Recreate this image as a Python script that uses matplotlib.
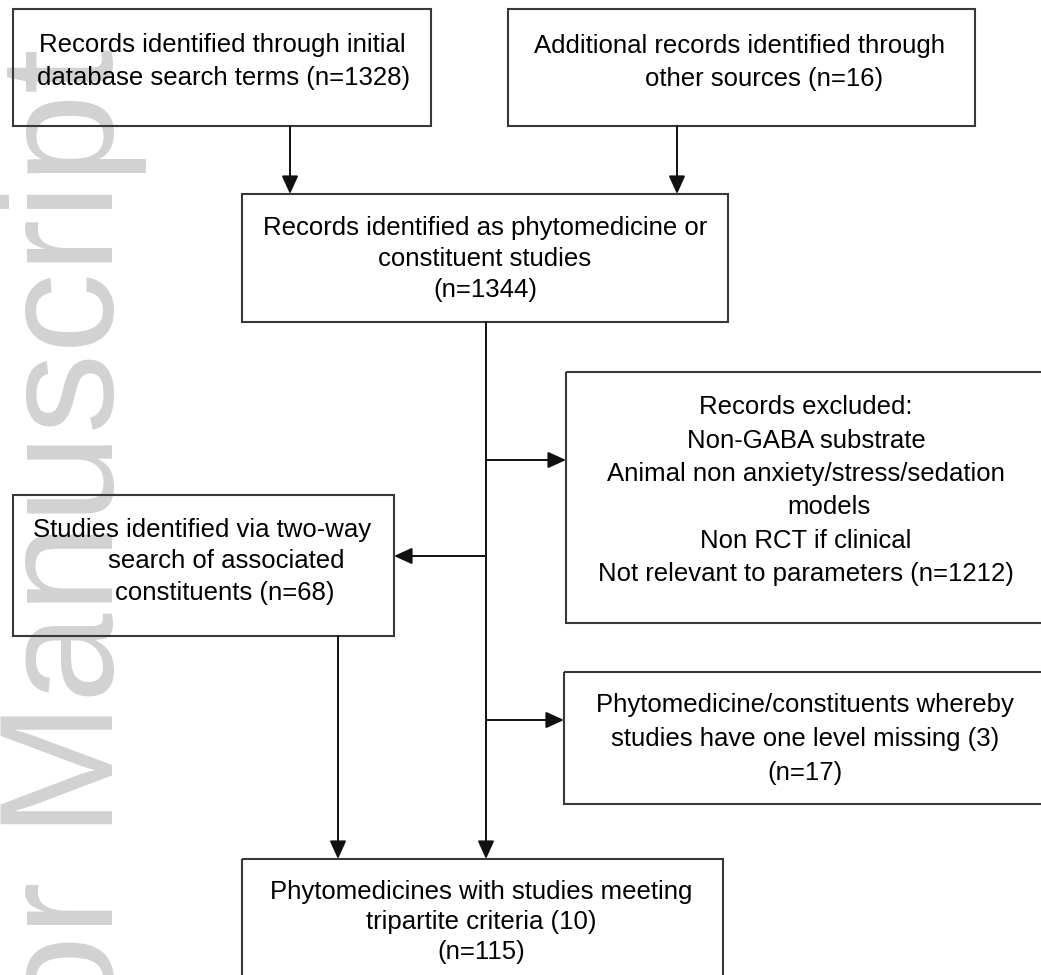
import matplotlib.pyplot as plt
from matplotlib.patches import Rectangle

# record counts shown in the flow diagram
n_database = 1328
n_other = 16
n_screened = 1344
n_excluded = 1212
n_two_way = 68
n_missing = 17
n_included = 115
n_missing_plants = 3
n_included_plants = 10

# text of each box, one entry per line
database_lines = ["Records identified through initial",
                  f"database search terms (n={n_database})"]
other_lines = ["Additional records identified through",
               f"other sources (n={n_other})"]
screened_lines = ["Records identified as phytomedicine or",
                  "constituent studies",
                  f"(n={n_screened})"]
excluded_lines = ["Records excluded:",
                  "Non-GABA substrate",
                  "Animal non anxiety/stress/sedation",
                  "models",
                  "Non RCT if clinical",
                  f"Not relevant to parameters (n={n_excluded})"]
two_way_lines = ["Studies identified via two-way",
                 "search of associated",
                 f"constituents (n={n_two_way})"]
missing_lines = ["Phytomedicine/constituents whereby",
                 f"studies have one level missing ({n_missing_plants})",
                 f"(n={n_missing})"]
included_lines = ["Phytomedicines with studies meeting",
                  f"tripartite criteria ({n_included_plants})",
                  f"(n={n_included})"]

watermark = "Author Manuscript"

# layout in pixels: box (x0, y0, x1, y1) and text (centre x, first line y, step, line shifts)
layout = [
    (database_lines, (13, 9, 431, 126), (222, 45, 33, [0, 2])),
    (other_lines, (508, 9, 975, 126), (740, 46, 33, [0, 24])),
    (screened_lines, (242, 194, 728, 322), (485, 228, 31, [0, 0, 0])),
    (excluded_lines, (566, 372, 1070, 623), (806, 407, 33.5, [0, 0, 0, 23, 0, 0])),
    (two_way_lines, (13, 495, 394, 636), (202, 530, 31.5, [0, 24, 23])),
    (missing_lines, (564, 672, 1070, 804), (805, 705, 34, [0, 0, 0])),
    (included_lines, (242, 859, 723, 1000), (481, 892, 30, [0, 0, 0])),
]

arrows = [
    ((290, 126), (290, 194)),
    ((677, 126), (677, 194)),
    ((486, 322), (486, 859)),
    ((486, 460), (566, 460)),
    ((486, 556), (394, 556)),
    ((486, 720), (564, 720)),
    ((338, 636), (338, 859)),
]

plt.rcParams['font.family'] = ['Liberation Sans', 'DejaVu Sans']

fig = plt.figure(figsize=(10.41, 9.75), dpi=100)
ax = fig.add_axes([0, 0, 1, 1])
ax.set_xlim(0, 1041)
ax.set_ylim(975, 0)
ax.axis('off')

# faint watermark down the left side
ax.text(113, 48, watermark, rotation=90, rotation_mode='anchor',
        ha='right', va='baseline', fontsize=116, color='#d2d2d2', zorder=0)

for lines, (x0, y0, x1, y1), (cx, ty, step, shifts) in layout:
    ax.add_patch(Rectangle((x0, y0), x1 - x0, y1 - y0, fill=False,
                           edgecolor='#383838', lw=1.5, zorder=2))
    for i, line in enumerate(lines):
        ax.text(cx + shifts[i], ty + i * step, line, ha='center', va='center',
                fontsize=18.5, color='black', zorder=3)

for start, end in arrows:
    ax.annotate('', xy=end, xytext=start,
                arrowprops=dict(arrowstyle='-|>,head_length=1.1,head_width=0.5',
                                mutation_scale=10, lw=1.4, color='#111111',
                                shrinkA=0, shrinkB=0))

fig.savefig('out.png', dpi=100)
